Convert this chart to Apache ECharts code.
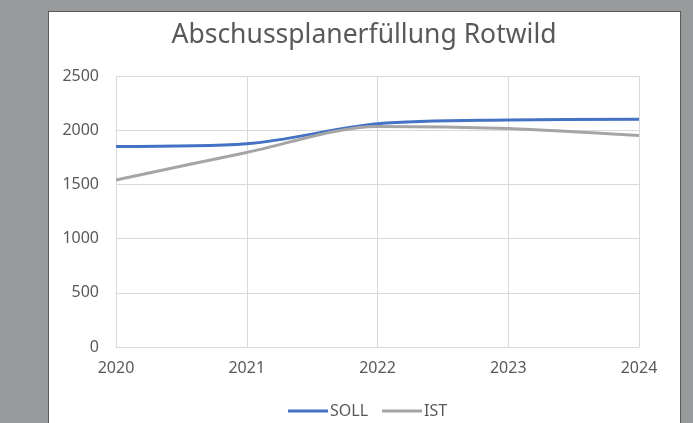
<!DOCTYPE html>
<html>
<head>
<meta charset="UTF-8">
<title>Abschussplanerfüllung Rotwild</title>
<style type="text/css">
html, body {
	margin: 0;
	padding: 0;
	width: 693px;
	height: 423px;
	overflow: hidden;
	background-color: #979b9b;
}
.panel {
	position: absolute;
	left: 48px;
	top: 11px;
	width: 631px;
	height: 430px;
	background-color: #ffffff;
	border: 1px solid #5a5a5a;
}
#chart {
	position: absolute;
	left: 0;
	top: 0;
	width: 693px;
	height: 423px;
}
</style>
</head>
<body>
	<div class="panel"></div>
	<div id="chart"></div>
<script type="text/javascript" src="https://cdn.jsdelivr.net/npm/echarts@6/dist/echarts.min.js"></script>
<script type="text/javascript">
	// Jahre und Werte
	var years = [ "2020", "2021", "2022", "2023", "2024" ];
	var sollData = [ 1850, 1875, 2060, 2095, 2100 ];
	var istData = [ 1540, 1795, 2035, 2015, 1950 ];
	var yTicks = [ 0, 500, 1000, 1500, 2000, 2500 ];

	var textColor = '#595959';
	var gridColor = '#d9d9d9';
	var font = 'Noto Sans';

	var chart = echarts.init(document.getElementById('chart'));

	var option = {
		backgroundColor : 'transparent',
		animation : false,
		title : {
			text : 'Abschussplanerfüllung Rotwild',
			left : 359,
			textAlign : 'center',
			top : 17,
			textStyle : {
				color : textColor,
				fontFamily : font,
				fontWeight : 'normal',
				fontSize : 26.5
			}
		},
		legend : {
			data : [ 'SOLL', 'IST' ],
			left : 283,
			top : 398,
			icon : 'rect',
			itemWidth : 40,
			itemHeight : 3,
			itemGap : 14,
			textStyle : {
				color : textColor,
				fontFamily : font,
				fontSize : 16,
				padding : [ 0, 0, 0, -3 ]
			}
		},
		grid : {
			left : 116,
			right : 54,
			top : 76,
			bottom : 76
		},
		xAxis : {
			type : 'category',
			data : years,
			boundaryGap : false,
			axisLine : {
				lineStyle : {
					color : gridColor
				}
			},
			axisTick : {
				show : false
			},
			splitLine : {
				show : true,
				lineStyle : {
					color : gridColor
				}
			},
			axisLabel : {
				color : textColor,
				fontFamily : font,
				fontSize : 16,
				margin : 13
			}
		},
		yAxis : {
			type : 'value',
			min : yTicks[0],
			max : yTicks[yTicks.length - 1],
			interval : 500,
			axisLine : {
				show : false
			},
			axisTick : {
				show : false
			},
			splitLine : {
				lineStyle : {
					color : gridColor
				}
			},
			axisLabel : {
				color : textColor,
				fontFamily : font,
				fontSize : 16,
				margin : 17,
				formatter : function(v) {
					return String(v);
				}
			}
		},
		series : [ {
			name : 'SOLL',
			type : 'line',
			data : sollData,
			smooth : 0.3,
			showSymbol : false,
			lineStyle : {
				width : 3,
				color : '#4472c4'
			},
			itemStyle : {
				color : '#4472c4'
			}
		}, {
			name : 'IST',
			type : 'line',
			data : istData,
			smooth : 0.3,
			showSymbol : false,
			lineStyle : {
				width : 3,
				color : '#a5a5a5'
			},
			itemStyle : {
				color : '#a5a5a5'
			}
		} ]
	};

	chart.setOption(option);
</script>
</body>
</html>
